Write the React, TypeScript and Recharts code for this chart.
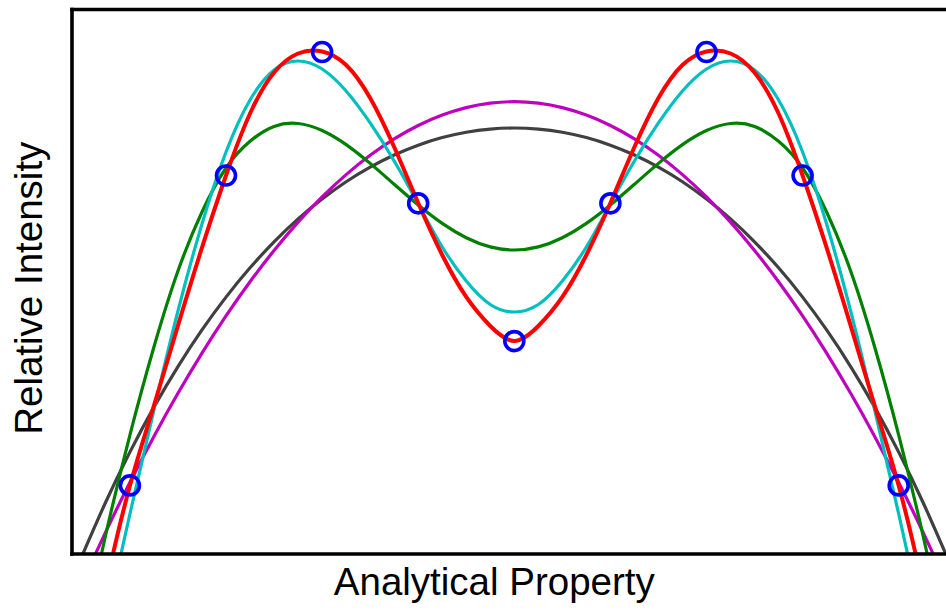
import React from "react";
import { ComposedChart, Line, Scatter, XAxis, YAxis, Label } from "recharts";

// positions along the analytical property axis; the nine samples sit at 1..9
const gridX = [
  0.5, 0.75, 1, 1.25, 1.5, 1.75, 2, 2.25, 2.5, 2.75, 3, 3.25, 3.5, 3.75, 4, 4.25, 4.5, 4.75, 5,
  5.25, 5.5, 5.75, 6, 6.25, 6.5, 6.75, 7, 7.25, 7.5, 7.75, 8, 8.25, 8.5, 8.75, 9, 9.25, 9.5,
];

// fitted curves (relative intensity, 0-100)
const grayFit = [
  -0.42, 9.6, 18.71, 26.97, 34.43, 41.15, 47.18, 52.56, 57.33, 61.54, 65.2, 68.37, 71.06, 73.29,
  75.09, 76.48, 77.46, 78.04, 78.24, 78.04, 77.46, 76.48, 75.09, 73.29, 71.06, 68.37, 65.2, 61.54,
  57.33, 52.56, 47.18, 41.15, 34.43, 26.97, 18.71, 9.6, -0.42,
];
const magentaFit = [
  -5.45, 4.11, 13.13, 21.6, 29.51, 36.9, 43.73, 50.01, 55.74, 60.94, 65.58, 69.68, 73.22, 76.24,
  78.7, 80.61, 81.98, 82.79, 83.07, 82.79, 81.98, 80.61, 78.7, 76.24, 73.22, 69.68, 65.58, 60.94,
  55.74, 50.01, 43.73, 36.9, 29.51, 21.6, 13.13, 4.11, -5.45,
];
const greenFit = [
  -16.16, 3.67, 21.85, 38.02, 51.97, 62.81, 70.89, 75.79, 78.53, 79.06, 77.78, 75.19, 71.74, 67.9,
  64.1, 60.72, 58.09, 56.4, 55.83, 56.4, 58.09, 60.72, 64.1, 67.9, 71.74, 75.19, 77.78, 79.06,
  78.53, 75.79, 70.89, 62.81, 51.97, 38.02, 21.85, 3.67, -16.16,
];
const cyanFit = [
  -33.06, -12.49, 7.35, 26.45, 44.63, 60.61, 73.83, 83.38, 88.89, 90.54, 89.07, 85.03, 79.16, 72.18,
  64.28, 56.38, 50.14, 45.82, 44.44, 45.82, 50.14, 56.38, 64.28, 72.18, 79.16, 85.03, 89.07, 90.54,
  88.89, 83.38, 73.83, 60.61, 44.63, 26.45, 7.35, -12.49, -33.06,
];
const redFit = [
  -26.94, -5.82, 12.54, 27.24, 41.93, 56.25, 69.51, 80.9, 88.43, 91.92, 92.29, 89.81, 83.75, 74.75,
  64.46, 54.91, 47.2, 41.87, 39.12, 41.87, 47.2, 54.91, 64.46, 74.75, 83.75, 89.81, 92.29, 91.92,
  88.43, 80.9, 69.51, 56.25, 41.93, 27.24, 12.54, -5.82, -26.94,
];

// measured samples
const sampleX = [1, 2, 3, 4, 5, 6, 7, 8, 9];
const sampleY = [12.6, 69.5, 92.2, 64.4, 39.1, 64.4, 92.2, 69.5, 12.6];

const curves = gridX.map((x, i) => ({
  x,
  gray: grayFit[i],
  magenta: magentaFit[i],
  green: greenFit[i],
  cyan: cyanFit[i],
  red: redFit[i],
}));
const samples = sampleX.map((x, i) => ({ x, y: sampleY[i] }));

const X_DOMAIN: [number, number] = [0.3975, 9.6025];
const Y_DOMAIN: [number, number] = [0, 100];
const FONT = "'Liberation Sans', Arial, Helvetica, sans-serif";
const frame = { stroke: "#000", strokeWidth: 3.6, strokeLinecap: "square" as const };

const XTitle = (props: any) => {
  const vb = props.viewBox || { x: 72, y: 554, width: 884.6, height: 0 };
  return (
    <text
      x={vb.x + vb.width / 2 - 20}
      y={554 + 40.5}
      textAnchor="middle"
      fontFamily={FONT}
      fontSize={38.5}
      fill="#000"
    >
      Analytical Property
    </text>
  );
};

const YTitle = (props: any) => {
  const vb = props.viewBox || { x: 72, y: 9.5, width: 0, height: 544.5 };
  const cx = 72 - 30.3;
  const cy = vb.y + vb.height / 2 + 6.5;
  return (
    <text
      x={cx}
      y={cy}
      transform={`rotate(-90, ${cx}, ${cy})`}
      textAnchor="middle"
      fontFamily={FONT}
      fontSize={38.5}
      fill="#000"
    >
      Relative Intensity
    </text>
  );
};

const Ring = (props: any) => (
  <circle cx={props.cx} cy={props.cy} r={9.5} fill="none" stroke="#0000ff" strokeWidth={3.6} />
);

export default function App() {
  return (
    <div
      style={{
        position: "absolute",
        left: 0,
        top: 0,
        width: 946,
        height: 610,
        overflow: "hidden",
        background: "#fff",
      }}
    >
      <ComposedChart
        width={980}
        height={610}
        data={curves}
        margin={{ top: 8.5, right: 22.4, bottom: 55, left: 71 }}
      >
        <XAxis
          dataKey="x"
          type="number"
          domain={X_DOMAIN}
          allowDataOverflow
          tick={false}
          tickLine={false}
          height={1}
          axisLine={frame}
        >
          <Label content={XTitle} />
        </XAxis>
        <XAxis
          xAxisId="top"
          orientation="top"
          type="number"
          domain={X_DOMAIN}
          allowDataOverflow
          tick={false}
          tickLine={false}
          height={1}
          axisLine={frame}
        />
        <YAxis
          type="number"
          domain={Y_DOMAIN}
          allowDataOverflow
          tick={false}
          tickLine={false}
          width={1}
          axisLine={frame}
        >
          <Label content={YTitle} />
        </YAxis>
        <YAxis
          yAxisId="right"
          orientation="right"
          type="number"
          domain={Y_DOMAIN}
          allowDataOverflow
          tick={false}
          tickLine={false}
          width={1}
          axisLine={frame}
        />
        <Scatter data={samples} dataKey="y" shape={Ring} isAnimationActive={false} />
        <Line type="natural" dataKey="gray" stroke="#404040" strokeWidth={3.2} dot={false} activeDot={false} isAnimationActive={false} />
        <Line type="natural" dataKey="magenta" stroke="#bf00bf" strokeWidth={3.2} dot={false} activeDot={false} isAnimationActive={false} />
        <Line type="natural" dataKey="green" stroke="#008000" strokeWidth={3.2} dot={false} activeDot={false} isAnimationActive={false} />
        <Line type="natural" dataKey="cyan" stroke="#00bfbf" strokeWidth={3.2} dot={false} activeDot={false} isAnimationActive={false} />
        <Line type="natural" dataKey="red" stroke="#ff0000" strokeWidth={4} dot={false} activeDot={false} isAnimationActive={false} />
      </ComposedChart>
    </div>
  );
}
